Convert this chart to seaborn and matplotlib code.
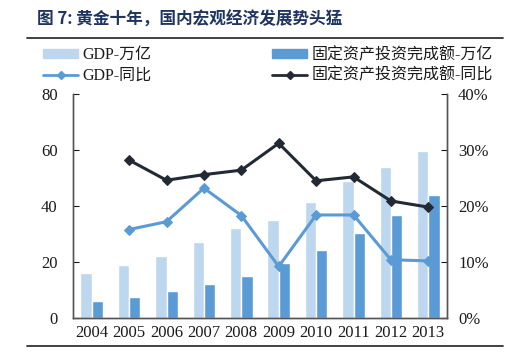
import numpy as np
import pandas as pd
import matplotlib
matplotlib.use("Agg")
import matplotlib.pyplot as plt
import seaborn as sns
from matplotlib.patches import Patch
from matplotlib.lines import Line2D

sns.set_style("white")
plt.rcParams['font.family'] = ['Liberation Serif', 'Noto Sans CJK SC']

# data
years = ['2004', '2005', '2006', '2007', '2008', '2009', '2010', '2011', '2012', '2013']
gdp = [16.2, 18.8, 22.0, 27.1, 32.0, 35.0, 41.3, 48.9, 54.0, 59.5]
fai = [5.9, 7.6, 9.6, 12.1, 15.0, 19.6, 24.3, 30.4, 36.8, 43.9]
gdp_yoy = [np.nan, 15.8, 17.2, 23.2, 18.3, 9.2, 18.4, 18.4, 10.4, 10.2]
fai_yoy = [np.nan, 28.2, 24.6, 25.6, 26.4, 31.2, 24.5, 25.2, 20.9, 19.8]

lbl_gdp = 'GDP-万亿'
lbl_fai = '固定资产投资完成额-万亿'
lbl_gdp_yoy = 'GDP-同比'
lbl_fai_yoy = '固定资产投资完成额-同比'

c_light = '#bdd7ee'
c_bar = '#5b9bd5'
c_line1 = '#5b9bd5'
c_line2 = '#222a35'
txt = '#1a1a1a'

bars = pd.DataFrame({
    'year': years * 2,
    'value': gdp + fai,
    'series': [lbl_gdp] * len(years) + [lbl_fai] * len(years),
})

fig = plt.figure(figsize=(5.08, 3.58), dpi=100)
ax = fig.add_axes([73 / 508, 40 / 358, 374 / 508, 224 / 358])

sns.barplot(data=bars, x='year', y='value', hue='series', order=years,
            hue_order=[lbl_gdp, lbl_fai], palette=[c_light, c_bar],
            width=0.6, saturation=1, ax=ax, legend=False)
ax.set_xlim(-0.5, 9.5)
ax.set_ylim(0, 80)
ax.set_yticks([0, 20, 40, 60, 80])
ax.set_xlabel('')
ax.set_ylabel('')
ax.tick_params(axis='y', direction='in', length=4, pad=11, labelsize=12, colors=txt)
ax.tick_params(axis='x', which='major', length=0, pad=5, labelsize=12, colors=txt)
ax.set_xticks(np.arange(-0.5, 10, 1), minor=True)
ax.tick_params(axis='x', which='minor', direction='in', length=4, color='#555555')

ax2 = ax.twinx()
x = np.arange(len(years))
sns.lineplot(x=x, y=gdp_yoy, ax=ax2, color=c_line1, lw=2.2, marker='D',
             markersize=5, markeredgecolor=c_line1)
sns.lineplot(x=x, y=fai_yoy, ax=ax2, color=c_line2, lw=2.2, marker='D',
             markersize=5, markeredgecolor=c_line2)
ax2.set_ylim(0, 40)
ax2.set_yticks([0, 10, 20, 30, 40])
ax2.set_yticklabels([f'{v}%' for v in [0, 10, 20, 30, 40]])
ax2.tick_params(axis='y', direction='in', length=4, pad=8, labelsize=12, colors=txt)
ax2.set_xlim(-0.5, 9.5)

for a in (ax, ax2):
    a.grid(False)
    a.spines['top'].set_visible(False)
    for s in ('left', 'right', 'bottom'):
        a.spines[s].set_color('#555555')
        a.spines[s].set_linewidth(1.0)

# legends
h_left = [Patch(color=c_light, label=lbl_gdp),
          Line2D([], [], color=c_line1, lw=2, marker='D', markersize=4, label=lbl_gdp_yoy)]
h_right = [Patch(color=c_bar, label=lbl_fai),
           Line2D([], [], color=c_line2, lw=2, marker='D', markersize=4, label=lbl_fai_yoy)]
for hs, xpos in ((h_left, 43), (h_right, 272)):
    fig.legend(handles=hs, loc='upper left', bbox_to_anchor=(xpos / 508, 1 - 47 / 358),
               frameon=False, fontsize=11.5, handlelength=2.2, handleheight=0.55,
               handletextpad=0.25, labelspacing=0.3, borderpad=0, borderaxespad=0,
               labelcolor=txt)

fig.text(37 / 508, 1 - 20 / 358, '图 7: 黄金十年，国内宏观经济发展势头猛',
         fontsize=12, fontweight='bold', color='#1f3560', va='center', ha='left',
         family=['Noto Sans CJK SC', 'DejaVu Sans'])
fig.add_artist(Line2D([27 / 508, 503 / 508], [1 - 38 / 358, 1 - 38 / 358],
                      color='#333333', lw=1.3, transform=fig.transFigure))
fig.add_artist(Line2D([27 / 508, 503 / 508], [1 - 346 / 358, 1 - 346 / 358],
                      color='#333333', lw=1.3, transform=fig.transFigure))

fig.savefig('out.png', dpi=100)
